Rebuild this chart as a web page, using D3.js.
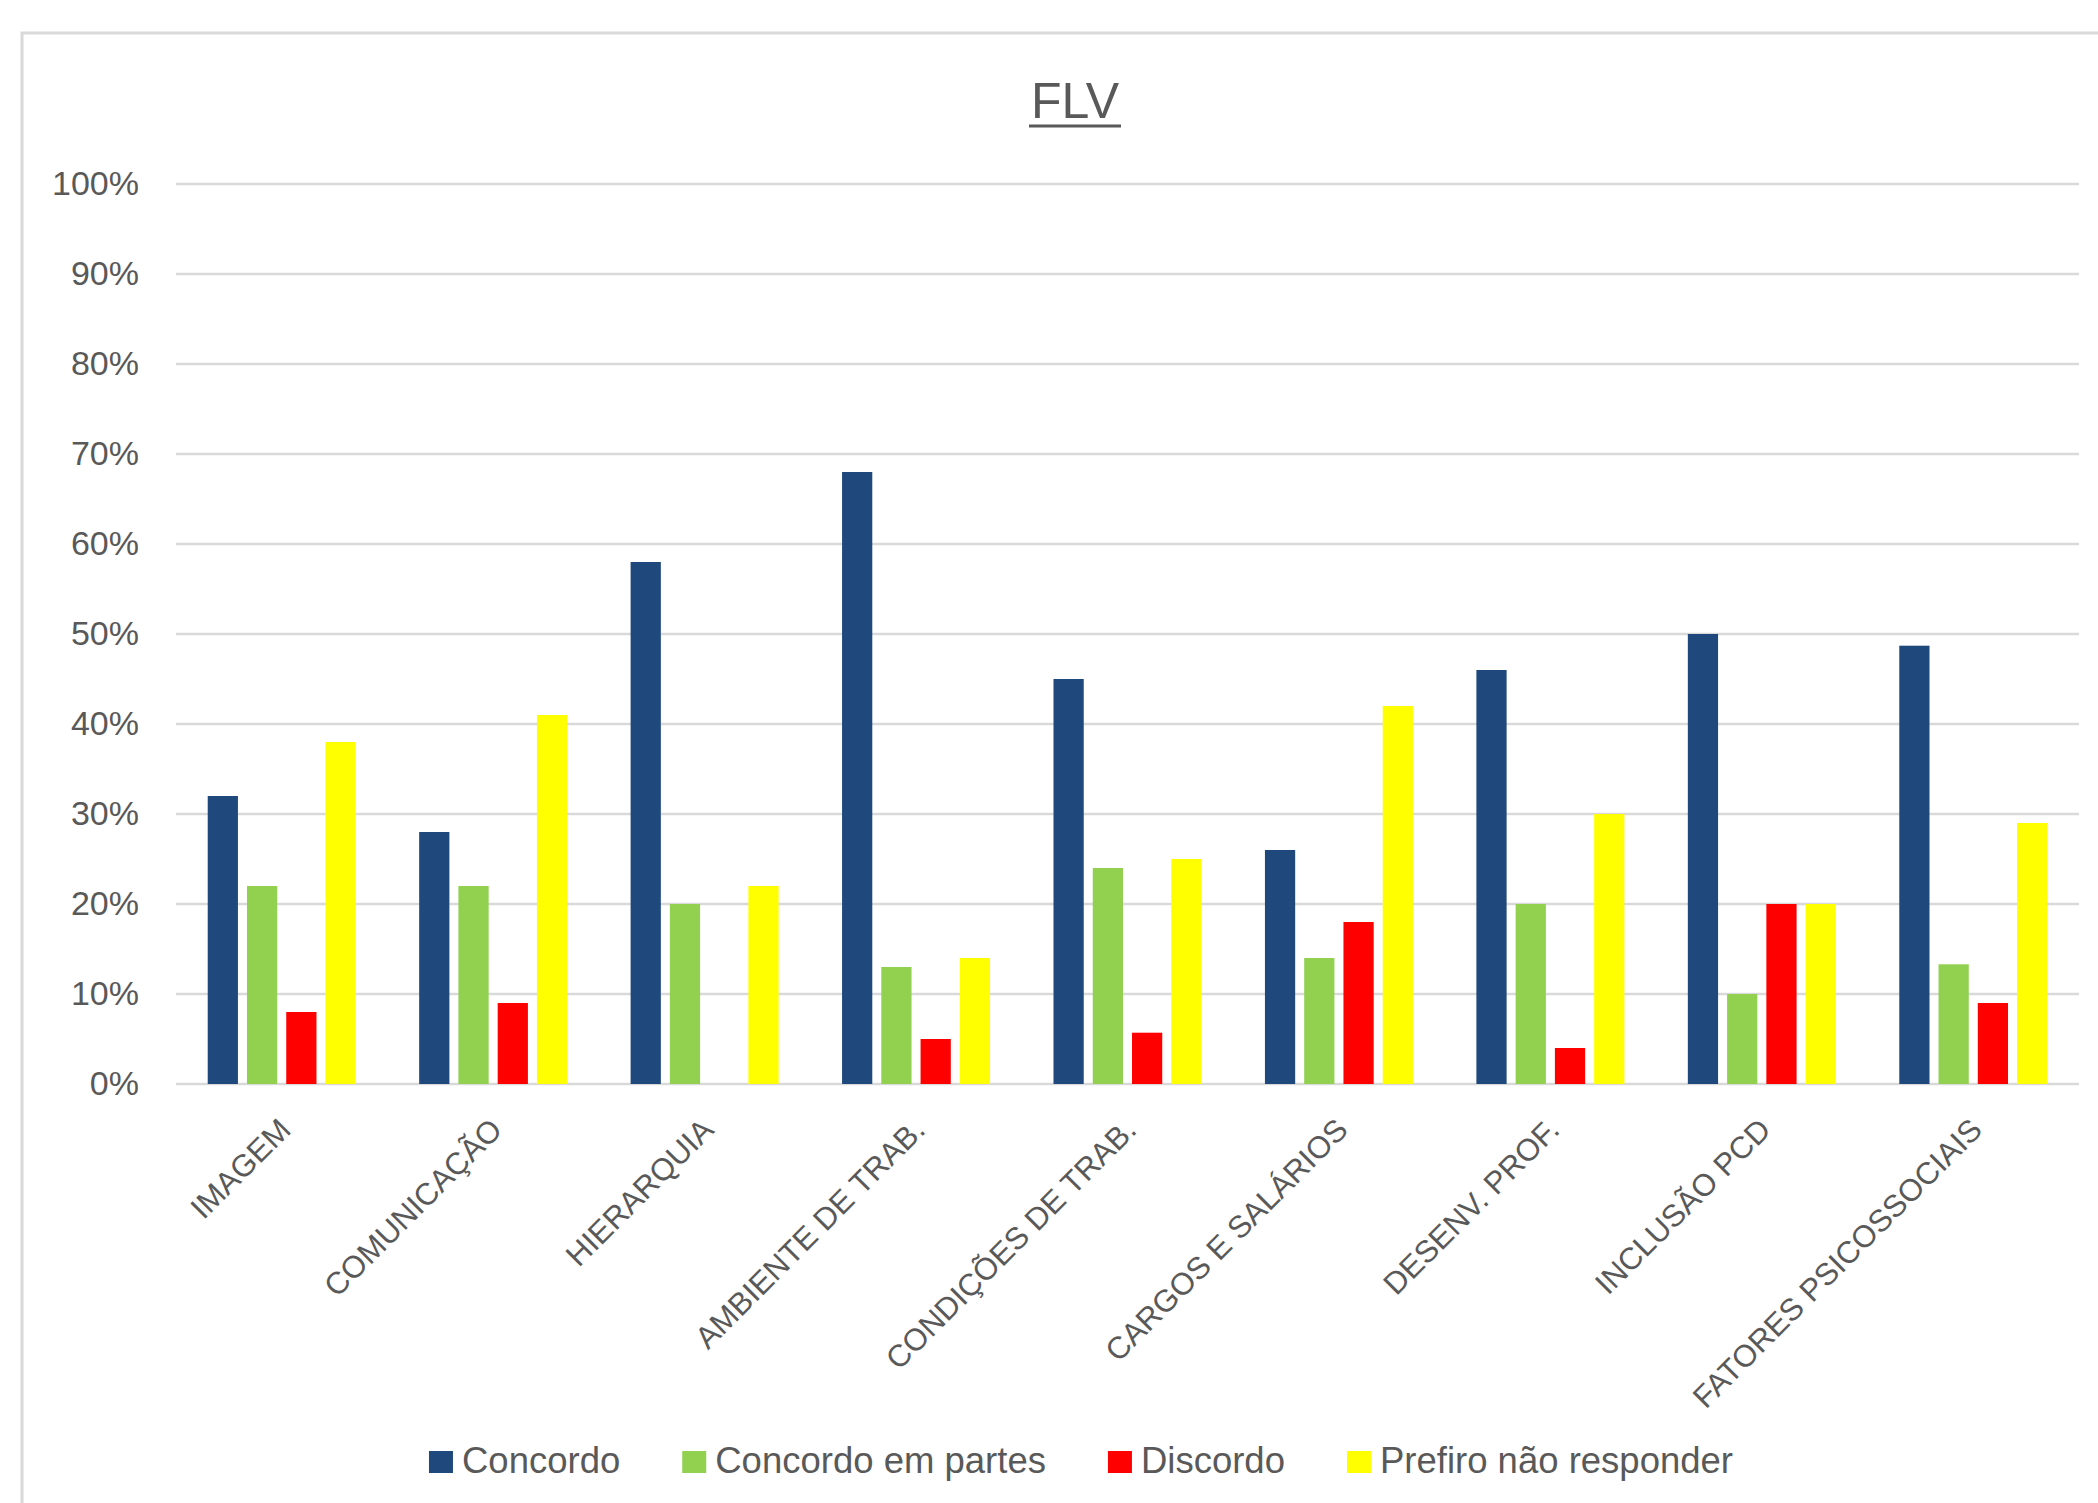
<!DOCTYPE html>
<html>
<head>
<meta charset="utf-8">
<script src="https://cdn.jsdelivr.net/npm/d3@7"></script>
<style>
  html, body { margin: 0; padding: 0; background: #ffffff; }
  svg { display: block; }
  text { font-family: "Liberation Sans", Arial, sans-serif; fill: #595959; }
</style>
</head>
<body>
<svg id="chart" width="2098" height="1503"></svg>
<script>
// Categories (survey dimensions)
const categories = [
  "IMAGEM", "COMUNICAÇÃO", "HIERARQUIA", "AMBIENTE DE TRAB.",
  "CONDIÇÕES DE TRAB.", "CARGOS E SALÁRIOS", "DESENV. PROF.",
  "INCLUSÃO PCD", "FATORES PSICOSSOCIAIS"
];

// Answer options
const seriesNames = ["Concordo", "Concordo em partes", "Discordo", "Prefiro não responder"];
const seriesColors = ["#1F497D", "#92D050", "#FF0000", "#FFFF00"];

// Share of answers per category (fractions)
const concordo          = [0.32, 0.28, 0.58, 0.68, 0.45, 0.26, 0.46, 0.50, 0.487];
const concordoEmPartes  = [0.22, 0.22, 0.20, 0.13, 0.24, 0.14, 0.20, 0.10, 0.133];
const discordo          = [0.08, 0.09, 0.00, 0.05, 0.057, 0.18, 0.04, 0.20, 0.09];
const prefiroNao        = [0.38, 0.41, 0.22, 0.14, 0.25, 0.42, 0.30, 0.20, 0.29];

const yTicks = [0, 0.1, 0.2, 0.3, 0.4, 0.5, 0.6, 0.7, 0.8, 0.9, 1.0];
const chartTitle = "FLV";

const seriesValues = [concordo, concordoEmPartes, discordo, prefiroNao];
const rows = categories.map((c, i) => ({
  category: c,
  values: seriesNames.map((s, k) => ({ series: s, value: seriesValues[k][i], color: seriesColors[k] }))
}));

const svg = d3.select("#chart");

// Outer chart frame
svg.append("rect")
  .attr("x", 22).attr("y", 33)
  .attr("width", 2300).attr("height", 1700)
  .attr("fill", "none")
  .attr("stroke", "#d9d9d9")
  .attr("stroke-width", 3);

const plotLeft = 176, plotRight = 2079, plotTop = 184, plotBottom = 1084;

const x0 = d3.scaleBand().domain(categories).range([plotLeft, plotRight]).padding(0);
const bw = x0.bandwidth();
const x1 = d3.scaleBand().domain(seriesNames)
  .range([bw * 0.15, bw * 0.85]).paddingInner(0.23).paddingOuter(0);
const y = d3.scaleLinear().domain([0, 1]).range([plotBottom, plotTop]);

// Gridlines
svg.append("g")
  .selectAll("line")
  .data(yTicks)
  .join("line")
  .attr("x1", plotLeft).attr("x2", plotRight)
  .attr("y1", d => y(d)).attr("y2", d => y(d))
  .attr("stroke", "#d9d9d9")
  .attr("stroke-width", 2.6);

// Y axis labels
const yAxis = d3.axisLeft(y)
  .tickValues(yTicks)
  .tickFormat(d3.format(".0%"))
  .tickSize(0)
  .tickPadding(37);
const yg = svg.append("g").attr("transform", `translate(${plotLeft},0)`).call(yAxis);
yg.select(".domain").remove();
yg.selectAll("text")
  .attr("font-family", "Liberation Sans, Arial, sans-serif")
  .attr("font-size", 34)
  .attr("fill", "#595959")
  .attr("dy", "0.3em");

// Bars
const groups = svg.append("g")
  .selectAll("g")
  .data(rows)
  .join("g")
  .attr("transform", d => `translate(${x0(d.category)},0)`);

groups.selectAll("rect")
  .data(d => d.values)
  .join("rect")
  .attr("x", d => x1(d.series))
  .attr("width", x1.bandwidth())
  .attr("y", d => y(d.value))
  .attr("height", d => y(0) - y(d.value))
  .attr("fill", d => d.color);

// Rotated category labels
svg.append("g")
  .selectAll("text")
  .data(categories)
  .join("text")
  .attr("transform", d => `translate(${x0(d) + bw / 2 + 3},1124) rotate(-45)`)
  .attr("text-anchor", "end")
  .attr("dy", "0.35em")
  .attr("font-size", 31)
  .text(d => d);

// Title with underline
const title = svg.append("text")
  .attr("x", 1075).attr("y", 118)
  .attr("text-anchor", "middle")
  .attr("font-size", 50)
  .text(chartTitle);
const tw = title.node().getComputedTextLength();
svg.append("rect")
  .attr("x", 1075 - tw / 2 - 2).attr("y", 124.5)
  .attr("width", tw + 4).attr("height", 3)
  .attr("fill", "#595959");

// Legend
const legend = svg.append("g");
let cursor = 0;
const gap = 62;
seriesNames.forEach((s, i) => {
  const g = legend.append("g");
  g.append("rect")
    .attr("x", 0).attr("y", -22)
    .attr("width", 24).attr("height", 22)
    .attr("fill", seriesColors[i]);
  const t = g.append("text")
    .attr("x", 33).attr("y", 0)
    .attr("font-size", 36.5)
    .text(s);
  const w = 33 + t.node().getComputedTextLength();
  g.attr("transform", `translate(${cursor},0)`);
  cursor += w + gap;
});
const legendWidth = cursor - gap;
legend.attr("transform", `translate(${1081 - legendWidth / 2},1473)`);
</script>
</body>
</html>
